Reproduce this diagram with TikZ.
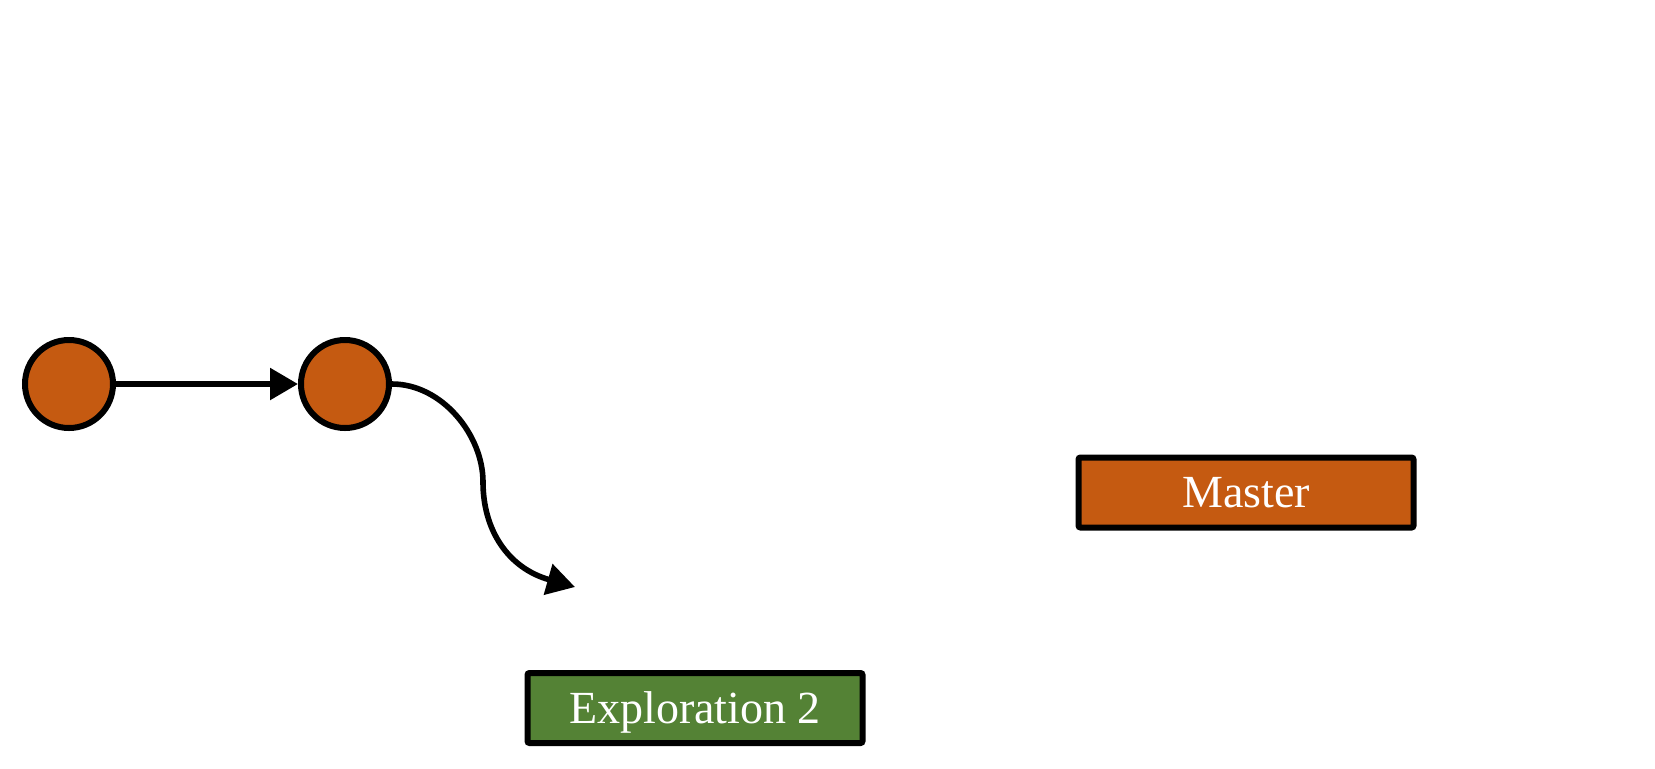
\documentclass[tikz,border=0pt]{standalone}
\usepackage{fontspec}
\setmainfont{Liberation Serif}
\usetikzlibrary{arrows.meta}
\definecolor{orng}{HTML}{C55A11}
\definecolor{grn}{HTML}{548235}
\begin{document}
\begin{tikzpicture}[x=0.5pt,y=-0.5pt,
  commit/.style={circle,draw=black,fill=orng,line width=3pt,minimum size=44pt,inner sep=0pt},
  branch/.style={rectangle,draw=black,line width=3pt,minimum width=167.5pt,minimum height=35pt,
    rounded corners=1pt,text=white,inner sep=0pt,text height=15.2pt,text depth=0pt,
    font=\fontsize{23}{27}\selectfont},
  conn/.style={line width=2.8pt,-{Triangle[length=14pt,width=15.5pt]}}]
\useasboundingbox (0,0) rectangle (1655,768);
\node[commit] (c1) at (69,384) {};
\node[commit] (c2) at (345,384) {};
\node[branch,fill=orng] (master) at (1246,492.5) {Master};
\node[branch,fill=grn] (expl) at (695,708) {Exploration 2};
\coordinate (tip) at (575,587);
\draw[conn] (c1.east) -- (c2.west);
\draw[conn] (c2.east) .. controls (442,384) and (483,435) .. (483,482)
  .. controls (483,530) and (508,568) .. (tip);
\end{tikzpicture}
\end{document}
